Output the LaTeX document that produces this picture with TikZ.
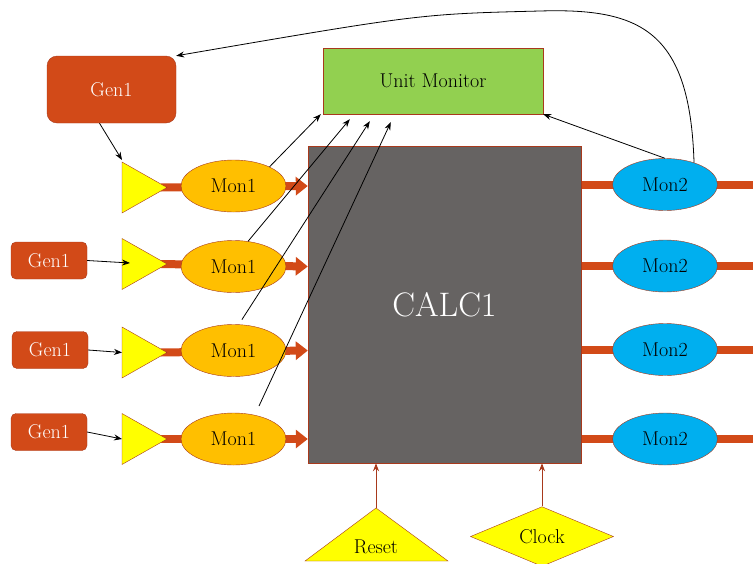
\documentclass[tikz,border=0pt]{standalone}
\usetikzlibrary{arrows.meta,shapes.geometric,backgrounds}
\definecolor{gorange}{HTML}{D24A18}
\definecolor{bord}{HTML}{A8391C}
\definecolor{mon1c}{HTML}{FFBF00}
\definecolor{mon2c}{HTML}{00AFEF}
\definecolor{umc}{HTML}{92D050}
\definecolor{calcc}{HTML}{666362}
\definecolor{yel}{HTML}{FFFF00}
\tikzset{
  lbl/.style={font=\fontsize{20}{24}\selectfont},
  genbox/.style={lbl, rectangle, rounded corners=5pt, fill=gorange, draw=bord, text=white, minimum width=76pt, minimum height=37pt, inner sep=0pt},
  mononeell/.style={lbl, ellipse, fill=mon1c, draw=bord, minimum width=105pt, minimum height=52pt, inner sep=0pt},
  montwoell/.style={lbl, ellipse, fill=mon2c, draw=bord, minimum width=105pt, minimum height=52pt, inner sep=0pt},
  ampl/.style={fill=yel, draw=bord},
  fat/.style={draw=gorange, line width=8pt},
  fatarrow/.style={fat, -{Triangle[length=12pt,width=18pt]}},
  sig/.style={draw=black, line width=0.8pt, -{Stealth[length=8pt,width=6pt]}},
  ctl/.style={draw=bord, line width=1pt, -{Stealth[length=8pt,width=6pt]}}
}
\begin{document}
\begin{tikzpicture}[x=1pt,y=-1pt]
\useasboundingbox (0,0) rectangle (753,563);
% main boxes
\node[lbl, rectangle, fill=umc, draw=bord, minimum width=220pt, minimum height=66pt, inner sep=0pt] (um) at (433,81) {Unit Monitor};
\node[rectangle, fill=calcc, draw=bord, minimum width=273pt, minimum height=317pt, inner sep=0pt, text=white, font=\fontsize{34}{40}\selectfont] (calc) at (444.5,304.5) {CALC1};
\node[genbox, rounded corners=10pt, minimum width=129pt, minimum height=67pt] (gbig) at (111.5,89.5) {Gen1};
\node[genbox] (g2) at (49,260.5) {Gen1};
\node[genbox] (g3) at (50,350) {Gen1};
\node[genbox] (g4) at (49,432) {Gen1};
% amplifier triangles
\foreach \i/\y in {1/187.5,2/264,3/352.5,4/439}{
  \coordinate (tw\i) at (122,\y);
  \coordinate (te\i) at (167,\y);
}
\foreach \i/\y in {1/186,2/266.5,3/350.5,4/439}{
  \node[mononeell] (m\i) at (233.5,\y) {Mon1};
}
\foreach \i/\y in {1/184.5,2/266,3/349.5,4/439}{
  \node[montwoell] (n\i) at (665,\y) {Mon2};
  \coordinate (r\i) at (753,\y);
}
% thick buses (behind)
\begin{scope}[on background layer]
  \foreach \i in {1,2,3,4}{
    \draw[fatarrow] (te\i -| m\i.west) ++(-20,0) -- (m\i.center -| calc.west);
    \draw[fat] (n\i.center -| calc.east) -- (r\i);
  }
\end{scope}
\foreach \i in {1,2,3,4}{
  \path[ampl] (tw\i) ++(0,-25.5) -- (te\i) -- ++(-45,25.5) -- cycle;
}
% generator inputs
\draw[sig] ([xshift=-12pt]gbig.south) -- (122,160);
\draw[sig] (g2.east) -- ([xshift=8pt,yshift=1pt]tw2);
\draw[sig] (g3.east) -- (tw3);
\draw[sig] (g4.east) -- (tw4);
% monitor links
\draw[sig] (m1.28) -- ([xshift=-2pt]um.south west);
\draw[sig] (m2.60) -- ([xshift=27pt,yshift=-5pt]um.south west);
\draw[sig] ([yshift=5pt]m3.72) -- ([xshift=47pt,yshift=-7pt]um.south west);
\draw[sig] ([yshift=10pt]m4.42) -- ([xshift=68pt,yshift=-8pt]um.south west);
\draw[sig] (n1.north) -- (um.south east);
\draw[sig] (n1.37) .. controls (690,30) and (640,8) .. (540,11) .. controls (420,14) .. (gbig.north east);
% reset / clock
\path[ampl] (376,508) coordinate (rtop) -- (448,561) -- (305,561) -- cycle;
\node[lbl] (reset) at (376,547) {Reset};
\node[lbl, diamond, fill=yel, draw=bord, minimum width=143pt, minimum height=53pt, inner sep=0pt] (clk) at (542,536.5) {Clock};
\draw[ctl] (rtop) -- (rtop |- calc.south);
\draw[ctl] (clk.north) -- (clk.north |- calc.south);
\end{tikzpicture}
\end{document}
